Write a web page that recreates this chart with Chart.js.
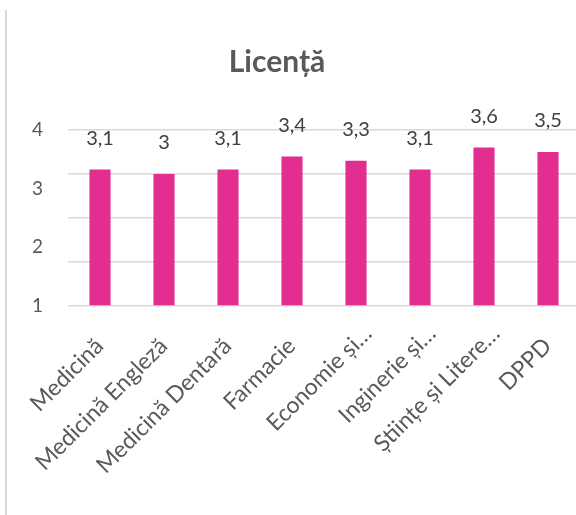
<!DOCTYPE html>
<html>
<head>
<meta charset="utf-8">
<script src="https://cdn.jsdelivr.net/npm/chart.js@4"></script>
<style>
  html, body { margin: 0; padding: 0; background: #fff; overflow: hidden; width: 576px; height: 515px; }
  #wrap { position: absolute; left: -26px; top: 0; width: 606px; height: 515px; }
  #edge { position: absolute; left: 5px; top: 10px; width: 2px; height: 505px; background: #d9d9d9; }
</style>
</head>
<body>
<div id="wrap"><canvas id="chart" width="606" height="515"></canvas></div>
<div id="edge"></div>
<script>
// chart data
const categories = ['Medicină', 'Medicină Engleză', 'Medicină Dentară', 'Farmacie', 'Economie și…', 'Inginerie și…', 'Științe și Litere…', 'DPPD'];
const scores = [3.1, 3, 3.1, 3.4, 3.3, 3.1, 3.6, 3.5];
const yTickLabels = ['1', '2', '3', '4'];

Chart.defaults.font.family = 'Lato';

/* value labels above the bars, with a decimal comma */
const barLabels = {
  id: 'barLabels',
  afterDatasetsDraw(chart) {
    const { ctx } = chart;
    const meta = chart.getDatasetMeta(0);
    ctx.save();
    ctx.font = '20px Lato';
    ctx.fillStyle = '#404040';
    ctx.textAlign = 'center';
    ctx.textBaseline = 'middle';
    meta.data.forEach((bar, i) => {
      ctx.fillText(String(scores[i]).replace('.', ','), bar.x, bar.y - 31);
    });
    ctx.restore();
  }
};

// excel pushes the cut-off labels further out than the full ones
function catLabel(i) {
  const txt = categories[i];
  return txt.endsWith('…') ? txt : txt + '   ';
}

new Chart(document.getElementById('chart'), {
  type: 'bar',
  data: {
    labels: categories,
    datasets: [{
      data: scores,
      backgroundColor: '#e22e91',
      barPercentage: 0.33,
      categoryPercentage: 1
    }]
  },
  options: {
    responsive: false,
    animation: false,
    devicePixelRatio: 1,
    layout: { padding: 0 },
    plugins: {
      legend: { display: false },
      tooltip: { enabled: false },
      title: {
        display: true,
        text: 'Licență',
        color: '#595959',
        font: { size: 30, weight: 'bold' },
        padding: { top: 44, bottom: 50 }
      }
    },
    scales: {
      x: {
        grid: { display: false },
        border: { display: false },
        ticks: {
          color: '#595959',
          font: { size: 23 },
          minRotation: 45,
          maxRotation: 45,
          autoSkip: false,
          padding: 6,
          labelOffset: 12,
          callback: (v, i) => catLabel(i)
        },
        afterFit: s => { s.height = 209; }
      },
      y: {
        min: 0,
        max: 4,
        ticks: { stepSize: 1, display: false },
        grid: { color: '#d9d9d9', lineWidth: 1.5, drawTicks: false },
        border: { display: false },
        afterFit: s => { s.width = 0; }
      },
      yl: {
        position: 'left',
        min: 1,
        max: 4,
        ticks: {
          stepSize: 1,
          color: '#595959',
          font: { size: 19 },
          padding: 25,
          callback: v => yTickLabels[v - 1]
        },
        grid: { display: false, drawTicks: false },
        border: { display: false },
        afterFit: s => { s.width = 94; }
      }
    }
  },
  plugins: [barLabels]
});
</script>
</body>
</html>
